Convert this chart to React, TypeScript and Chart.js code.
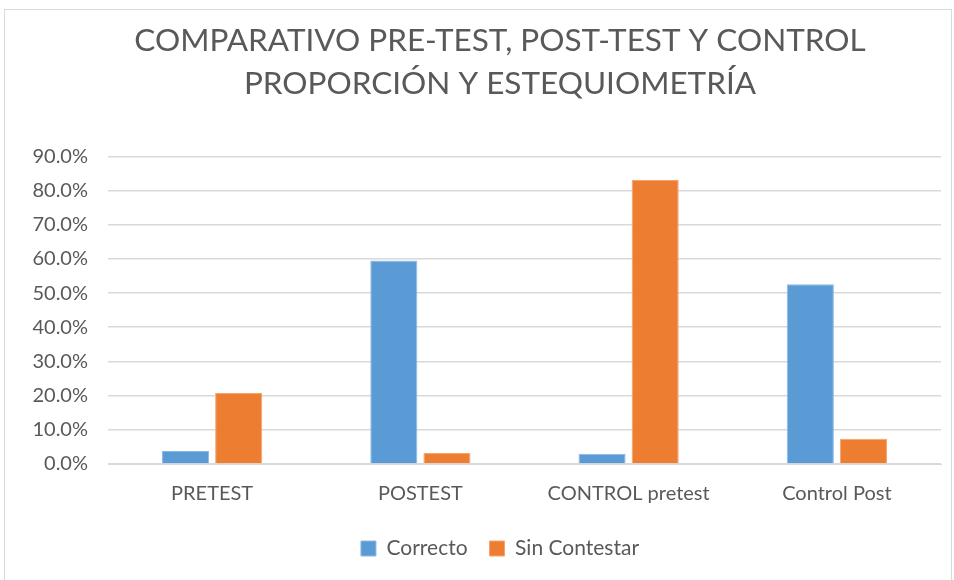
import React, { useEffect, useRef } from "react";
import { Chart, registerables } from "chart.js";

Chart.register(...registerables);

const categories = ["PRETEST", "POSTEST", "CONTROL pretest", "Control Post"];
const correcto = [3.8, 59.5, 3.0, 52.6];
const sinContestar = [20.8, 3.2, 83.1, 7.4];
const titleLines = ["COMPARATIVO PRE-TEST, POST-TEST Y CONTROL", "PROPORCIÓN Y ESTEQUIOMETRÍA"];

const FONT = "Lato, 'Open Sans', sans-serif";
const TICK_SIZE = 20;

function fmt(v: any) {
  return Number(v).toFixed(1) + "%";
}

export default function App() {
  const ref = useRef<HTMLCanvasElement | null>(null);
  useEffect(() => {
    document.body.style.margin = "0";
    const canvas = ref.current!;
    const mctx = canvas.getContext("2d")!;
    mctx.font = `${TICK_SIZE}px ${FONT}`;
    const widest = Math.max(mctx.measureText("90.0%").width, mctx.measureText("10.0%").width);
    const chart = new Chart(canvas, {
      type: "bar",
      data: {
        labels: categories,
        datasets: [
          { label: "Correcto", data: correcto, backgroundColor: "#5b9bd5", borderColor: "#8ab8e6", borderWidth: 1, categoryPercentage: 0.51, barPercentage: 0.887 },
          { label: "Sin Contestar", data: sinContestar, backgroundColor: "#ed7d31", borderColor: "#f4a46e", borderWidth: 1, categoryPercentage: 0.51, barPercentage: 0.887 },
        ],
      },
      options: {
        animation: false,
        responsive: false,
        maintainAspectRatio: false,
        layout: { padding: { left: 54, right: 10, top: 0, bottom: 14 } },
        plugins: {
          title: {
            display: true,
            text: titleLines,
            color: "#595959",
            font: { family: FONT, size: 31.5, weight: "normal", lineHeight: 1.37 },
            padding: { top: 9, bottom: 51 },
          },
          legend: {
            position: "bottom",
            labels: {
              color: "#595959",
              font: { family: FONT, size: 21 },
              boxWidth: 15,
              boxHeight: 15,
              padding: 22,
            },
          },
          tooltip: { enabled: false },
        },
        scales: {
          x: {
            grid: { display: false },
            border: { color: "#d9d9d9" },
            ticks: { color: "#595959", font: { family: FONT, size: 20 }, padding: 10 },
          },
          y: {
            min: 0,
            max: 90,
            afterFit: (scale: any) => {
              scale.width = 49;
            },
            ticks: {
              stepSize: 10,
              mirror: true,
              crossAlign: "far",
              color: "#595959",
              font: { family: FONT, size: TICK_SIZE },
              padding: -20 - widest,
              callback: fmt,
            },
            grid: { color: "#d9d9d9", lineWidth: 1.5, drawTicks: false },
            border: { display: false },
          },
        },
      },
    });
    return () => chart.destroy();
  }, []);
  return (
    <div style={{ position: "absolute", left: 4, top: 9, width: 948, height: 575, border: "1px solid #d9d9d9", boxSizing: "border-box", background: "#fff" }}>
      <canvas ref={ref} width={946} height={573} style={{ display: "block" }} />
    </div>
  );
}
